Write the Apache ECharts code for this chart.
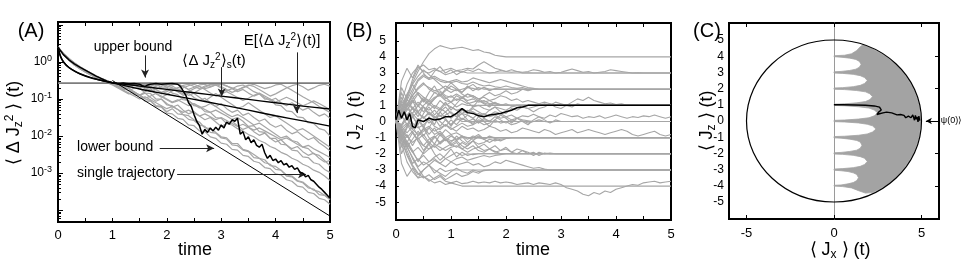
<!DOCTYPE html>
<html><head><meta charset="utf-8">
<script src="https://cdn.jsdelivr.net/npm/echarts@6/dist/echarts.min.js"></script>
<style>html,body{margin:0;padding:0;background:#fff}#c{width:969px;height:269px}</style>
</head><body><div id="c"></div>
<script>
const FONT = "'Liberation Sans', Arial, Helvetica, sans-serif";
const timeStep = 0.1;

// ---------- Panel A : log10 of <ΔJz²>(t) ----------
const aMajorTickExp = [1, 0, -1, -2, -3, -4];
const aLabelExp = [0, -1, -2, -3];
const aMinorMultipliers = [2, 3, 4, 5, 6, 7, 8, 9];
const upperBoundLog10 = -0.57;
const lowerBoundLog10 = [[1.0, -0.5], [5, -4.16]];
const expectationLog10 = [[0,0.4],[0.03,0.2],[0.08,0.05],[0.15,-0.08],[0.25,-0.2],[0.4,-0.32],[0.6,-0.43],[0.8,-0.5],[1.0,-0.56],[1.5,-0.73],[2,-0.87],[2.5,-1.01],[3,-1.15],[3.5,-1.3],[4,-1.45],[4.5,-1.59],[5,-1.73]];
const conditionalLog10 = [[0,0.4],[0.05,0.15],[0.1,0.0],[0.2,-0.15],[0.35,-0.28],[0.5,-0.37],[0.7,-0.46],[0.9,-0.53],[1.0,-0.56],[1.5,-0.65],[2,-0.74],[2.5,-0.83],[3,-0.92],[3.5,-1.01],[4,-1.1],[4.5,-1.19],[5,-1.27]];
const singleTrajLog10 = [[0,0.4],[0.1,0.2],[0.2,0.06],[0.3,-0.05],[0.4,-0.14],[0.5,-0.22],[0.6,-0.3],[0.7,-0.38],[0.8,-0.45],[0.9,-0.52],[1.0,-0.56],[1.1,-0.58],[1.2,-0.57],[1.3,-0.59],[1.4,-0.58],[1.5,-0.6],[1.55,-0.64],[1.6,-0.66],[1.65,-0.62],[1.7,-0.6],[1.8,-0.58],[1.9,-0.6],[2.0,-0.59],[2.1,-0.58],[2.2,-0.6],[2.25,-0.66],[2.3,-0.78],[2.35,-0.9],[2.4,-1.1],[2.45,-1.2],[2.5,-1.42],[2.55,-1.6],[2.6,-1.72],[2.65,-1.95],[2.7,-1.82],[2.75,-1.9],[2.8,-1.78],[2.85,-1.86],[2.9,-1.76],[2.95,-1.84],[3.0,-1.7],[3.05,-1.78],[3.1,-1.62],[3.15,-1.68],[3.2,-1.56],[3.25,-1.6],[3.3,-1.52],[3.35,-1.95],[3.4,-1.88],[3.45,-2.1],[3.5,-2.02],[3.55,-2.18],[3.6,-2.1],[3.65,-2.25],[3.7,-2.3],[3.75,-2.22],[3.8,-2.45],[3.85,-2.6],[3.9,-2.52],[3.95,-2.66],[4.0,-2.62],[4.05,-2.72],[4.1,-2.66],[4.15,-2.78],[4.2,-2.74],[4.25,-2.84],[4.3,-2.8],[4.35,-2.9],[4.4,-2.86],[4.45,-2.98],[4.5,-3.0],[4.55,-3.1],[4.6,-3.06],[4.65,-3.18],[4.7,-3.22],[4.75,-3.3],[4.8,-3.38],[4.85,-3.44],[4.9,-3.52],[4.95,-3.6],[5.0,-3.68]];
const aTraj1 = [0.4,0.22,0.08,-0.04,-0.14,-0.23,-0.31,-0.39,-0.46,-0.52,-0.56,-0.58,-0.7,-0.72,-0.88,-0.9,-1.06,-1.05,-1.2,-1.22,-1.38,-1.4,-1.52,-1.55,-1.7,-1.72,-1.86,-1.88,-2.02,-2.06,-2.19,-2.22,-2.36,-2.38,-2.52,-2.55,-2.68,-2.72,-2.85,-2.88,-3.02,-3.05,-3.18,-3.22,-3.35,-3.38,-3.52,-3.55,-3.68,-3.72,-3.84];
const aTraj2 = [0.4,0.2,0.05,-0.08,-0.18,-0.27,-0.35,-0.42,-0.48,-0.54,-0.58,-0.58,-0.62,-0.56,-0.64,-0.58,-0.6,-0.66,-0.58,-0.7,-0.7,-0.84,-0.88,-1.02,-1.04,-1.18,-1.2,-1.34,-1.36,-1.5,-1.52,-1.66,-1.7,-1.8,-1.86,-1.96,-2.02,-2.12,-2.18,-2.28,-2.34,-2.44,-2.5,-2.6,-2.66,-2.76,-2.82,-2.92,-2.98,-3.08,-3.2];
const aTraj3 = [0.4,0.23,0.1,-0.02,-0.12,-0.21,-0.29,-0.37,-0.44,-0.5,-0.56,-0.65,-0.75,-0.7,-0.82,-0.9,-0.8,-0.72,-0.85,-0.95,-0.88,-0.78,-0.7,-0.65,-0.75,-0.85,-0.95,-1.05,-0.95,-0.85,-0.95,-1.05,-1.15,-1.25,-1.2,-1.1,-1.2,-1.3,-1.4,-1.5,-1.45,-1.55,-1.65,-1.75,-1.85,-1.8,-1.9,-2.0,-2.1,-2.2,-2.3];
const aTraj4 = [0.4,0.21,0.07,-0.06,-0.16,-0.25,-0.33,-0.41,-0.47,-0.53,-0.57,-0.6,-0.58,-0.62,-0.6,-0.65,-0.7,-0.65,-0.6,-0.62,-0.68,-0.75,-0.7,-0.63,-0.6,-0.66,-0.72,-0.65,-0.6,-0.62,-0.7,-0.78,-0.72,-0.65,-0.62,-0.7,-0.8,-0.86,-1.0,-1.0,-1.16,-1.18,-1.32,-1.34,-1.48,-1.5,-1.64,-1.66,-1.8,-1.84,-2.0];
const aTraj5 = [0.4,0.22,0.09,-0.03,-0.13,-0.22,-0.3,-0.38,-0.45,-0.51,-0.56,-0.62,-0.7,-0.65,-0.6,-0.64,-0.72,-0.8,-0.74,-0.66,-0.6,-0.65,-0.73,-0.82,-0.9,-0.84,-0.75,-0.68,-0.62,-0.6,-0.66,-0.74,-0.82,-0.76,-0.68,-0.62,-0.66,-0.74,-0.83,-0.92,-0.86,-0.78,-0.7,-0.64,-0.6,-0.67,-0.76,-0.7,-0.63,-0.6,-0.65];
const aTraj6 = [0.4,0.2,0.06,-0.07,-0.17,-0.26,-0.34,-0.41,-0.47,-0.53,-0.57,-0.6,-0.62,-0.66,-0.64,-0.6,-0.68,-0.76,-0.85,-0.94,-1.02,-1.1,-1.05,-0.98,-1.05,-1.15,-1.24,-1.2,-1.12,-1.2,-1.3,-1.4,-1.48,-1.42,-1.5,-1.6,-1.7,-1.65,-1.75,-1.85,-1.95,-2.05,-2.0,-2.12,-2.16,-2.3,-2.34,-2.48,-2.52,-2.66,-2.8];
const aTraj7 = [0.4,0.21,0.06,-0.06,-0.16,-0.25,-0.33,-0.4,-0.47,-0.52,-0.56,-0.6,-0.66,-0.6,-0.7,-0.7,-0.84,-0.85,-1.0,-1.0,-1.16,-1.18,-1.28,-1.42,-1.45,-1.56,-1.62,-1.78,-1.8,-1.9,-2.02,-2.05,-2.2,-2.2,-2.36,-2.4,-2.5,-2.6,-2.64,-2.8,-2.82,-2.92,-3.05,-3.08,-3.2,-3.24,-3.36,-3.46,-3.5,-3.6,-3.7];
const aTraj8 = [0.4,0.23,0.09,-0.03,-0.13,-0.22,-0.3,-0.38,-0.45,-0.51,-0.57,-0.64,-0.7,-0.78,-0.7,-0.64,-0.6,-0.66,-0.74,-0.82,-0.76,-0.7,-0.78,-0.86,-0.8,-0.72,-0.66,-0.74,-0.84,-0.92,-0.86,-0.8,-0.88,-0.96,-1.04,-0.98,-0.9,-0.84,-0.92,-1.0,-1.08,-1.02,-0.95,-1.02,-1.1,-1.18,-1.12,-1.05,-1.12,-1.2,-1.28];
const aTraj9 = [0.4,0.2,0.05,-0.08,-0.18,-0.27,-0.35,-0.43,-0.5,-0.56,-0.62,-0.7,-0.78,-0.86,-0.8,-0.9,-0.98,-0.92,-0.85,-0.92,-1.0,-1.08,-1.02,-1.1,-1.18,-1.12,-1.2,-1.28,-1.36,-1.3,-1.38,-1.46,-1.55,-1.5,-1.6,-1.74,-1.72,-1.88,-1.9,-2.06,-2.06,-2.22,-2.24,-2.38,-2.4,-2.56,-2.58,-2.72,-2.76,-2.9,-2.98];
const aTraj10 = [0.4,0.22,0.08,-0.05,-0.15,-0.24,-0.32,-0.39,-0.46,-0.52,-0.57,-0.6,-0.63,-0.67,-0.62,-0.6,-0.65,-0.7,-0.66,-0.6,-0.64,-0.7,-0.76,-0.7,-0.64,-0.6,-0.66,-0.72,-0.68,-0.62,-0.6,-0.65,-0.7,-0.75,-0.7,-0.64,-0.6,-0.66,-0.72,-0.68,-0.62,-0.6,-0.68,-0.76,-0.85,-0.94,-1.02,-1.1,-1.2,-1.28,-1.36];
const aTraj11 = [0.4,0.21,0.07,-0.05,-0.15,-0.24,-0.32,-0.4,-0.47,-0.54,-0.6,-0.68,-0.76,-0.84,-0.92,-1.0,-0.94,-1.02,-1.1,-1.18,-1.26,-1.2,-1.28,-1.36,-1.3,-1.38,-1.46,-1.4,-1.48,-1.56,-1.5,-1.58,-1.66,-1.74,-1.68,-1.76,-1.84,-1.78,-1.86,-1.94,-2.02,-2.1,-2.05,-2.13,-2.22,-2.3,-2.25,-2.34,-2.42,-2.5,-2.58];
const aTraj12 = [0.4,0.2,0.06,-0.07,-0.17,-0.26,-0.34,-0.42,-0.48,-0.54,-0.58,-0.62,-0.7,-0.72,-0.85,-0.88,-1.0,-1.04,-1.18,-1.2,-1.34,-1.26,-1.4,-1.42,-1.55,-1.58,-1.7,-1.74,-1.9,-1.92,-2.05,-2.08,-2.24,-2.26,-2.38,-2.42,-2.58,-2.6,-2.72,-2.76,-2.9,-2.92,-3.08,-3.1,-3.22,-3.26,-3.4,-3.43,-3.58,-3.6,-3.72];
const aTraj13 = [0.4,0.22,0.07,-0.05,-0.15,-0.24,-0.32,-0.4,-0.47,-0.53,-0.57,-0.6,-0.56,-0.64,-0.6,-0.7,-0.66,-0.78,-0.74,-0.86,-0.8,-0.72,-0.8,-0.9,-0.84,-0.96,-1.04,-0.98,-1.1,-1.2,-1.12,-1.26,-1.36,-1.3,-1.44,-1.38,-1.5,-1.6,-1.54,-1.68,-1.76,-1.7,-1.84,-1.94,-1.88,-2.0,-2.1,-2.04,-2.18,-2.28,-2.4];
const aTraj14 = [0.4,0.21,0.08,-0.04,-0.14,-0.23,-0.31,-0.39,-0.46,-0.52,-0.57,-0.62,-0.68,-0.62,-0.58,-0.64,-0.6,-0.57,-0.63,-0.6,-0.68,-0.62,-0.58,-0.66,-0.74,-0.68,-0.62,-0.6,-0.66,-0.62,-0.58,-0.64,-0.72,-0.8,-0.74,-0.84,-0.92,-0.86,-0.96,-1.04,-0.98,-1.1,-1.18,-1.1,-1.2,-1.3,-1.24,-1.36,-1.46,-1.4,-1.52];
const aTraj15 = [0.4,0.2,0.06,-0.06,-0.16,-0.25,-0.33,-0.41,-0.48,-0.54,-0.59,-0.66,-0.74,-0.7,-0.8,-0.9,-0.84,-0.96,-1.06,-1.0,-1.12,-1.22,-1.16,-1.3,-1.4,-1.34,-1.46,-1.56,-1.5,-1.62,-1.74,-1.66,-1.6,-1.72,-1.82,-1.76,-1.88,-1.98,-1.92,-2.06,-2.16,-2.1,-2.24,-2.34,-2.28,-2.42,-2.52,-2.46,-2.6,-2.7,-2.66];
const aGrayTrajectories = [aTraj1,aTraj2,aTraj3,aTraj4,aTraj5,aTraj6,aTraj7,aTraj8,aTraj9,aTraj10,aTraj11,aTraj12,aTraj13,aTraj14,aTraj15];
const arrowsA = [[[1.6,0.18],[1.6,-0.42]],[[3.01,-0.14],[3.01,-0.93]],[[4.39,0.26],[4.39,-1.38]],[[1.87,-2.33],[2.87,-2.33]],[[2.19,-3.03],[4.56,-3.03]]];

// ---------- Panel B : <Jz>(t) ----------
const bTickValues = [5,4,3,2,1,0,-1,-2,-3,-4,-5];
const b1 = [0,0.8,1.6,2.4,3.1,3.7,4.2,4.5,4.7,4.6,4.5,4.55,4.6,4.5,4.4,4.45,4.3,4.25,4.1,4.05,4.0];
const b2 = [0,0.6,1.5,2.6,3.3,3.5,3.2,3.3,3.1,3.2,3.3,3.15,3.2,3.3,3.25,3.5,3.7,3.5,3.3,3.2,3.1,3.05,3.1,3.0,3.02,3.0];
const b3 = [0,1.2,2.3,3.0,3.4,3.1,3.0,3.2,3.1,2.9,3.0,3.15,3.05,3.2,3.1,3.25,3.1,3.0,3.05,3.15,3.1,3.2,3.1,3.05,3.1,3.2,3.15,3.05,3.1,3.0,3.05,3.15,3.25,3.15,3.05,3.1,3.0,3.05,3.1,3.2,3.15,3.1,3.05,3.0,3.02,3.0];
const b4 = [0,0.5,1.3,2.0,2.6,2.9,2.7,2.8,2.6,2.5,2.4,2.5,2.35,2.3,2.45,2.3,2.2,2.25,2.15,2.1,2.2,2.1,2.05,2.1,2.0,2.02,2.0];
const b5 = [0,0.7,1.1,1.6,2.0,2.3,2.1,1.9,2.0,2.2,2.0,1.9,2.0,2.1,2.05,1.95,2.1,2.0];
const b6 = [0,0.4,1.0,1.8,2.5,2.8,2.6,2.7,2.5,2.4,2.5,2.6,2.45,2.5,2.7,2.6,2.5,2.4,2.5,2.6,2.5,2.4,2.3,2.2,2.1,2.05,2.0];
const b7 = [0,0.3,0.9,1.4,1.8,1.5,1.2,1.5,1.6,1.3,1.2,1.4,1.3,1.1,1.2,1.3,1.15,1.05,1.1,1.0];
const b8 = [0,-0.2,0.4,0.8,0.6,1.0,1.3,0.9,0.7,1.1,0.9,0.7,0.8,0.6,0.9,1.0,0.8,0.7,0.9,0.8,0.7,0.9,1.0,0.9,0.8,0.9,1.0,1.1,1.0,1.2,1.1,1.0,1.2,1.4,1.3,1.5,1.3,1.2,1.1,1.15,1.05,1.1,1.0,1.02,1.0];
const b9 = [0,0.5,1.0,1.6,2.1,2.4,2.0,1.8,1.9,1.6,1.5,1.7,1.5,1.3,1.4,1.2,1.3,1.1,1.15,1.05,1.0];
const b10 = [0,0.4,-0.2,0.3,0.6,0.2,0.5,0.3,0.1,0.4,0.6,0.3,0.5,0.4,0.2,0.5,0.3,0.4,0.6,0.5,0.3,0.4,0.2,0.35,0.3,0.45,0.3,0.2,0.4,0.3,0.5,0.4,0.3,0.35,0.2,0.3,0.25,0.35,0.2,0.3,0.4,0.3,0.2,0.3,0.25,0.35,0.3,0.4,0.3,0.2,0.3];
const b11 = [0,-0.3,0.2,-0.4,0.1,0.3,-0.1,0.2,0.4,0.1,-0.2,0.1,0.2,0.0,0.15,-0.1,0.1,0.05,-0.05,0.0];
const b12 = [0,0.6,1.1,0.8,1.2,0.9,0.7,1.0,0.8,0.6,0.9,0.7,0.5,0.7,0.6,0.4,0.5,0.3,0.4,0.2,0.3,0.1,0.2,0.1,0.05,0.0];
const b13 = [0,-0.5,-1.0,-0.6,-1.2,-1.5,-1.1,-0.9,-1.3,-1.0,-1.2,-1.1,-0.9,-1.0,-1.1,-1.0];
const b14 = [0,-0.2,0.3,-0.1,-0.4,-0.2,0.1,-0.3,-0.5,-0.2,-0.4,-0.6,-0.3,-0.5,-0.4,-0.6,-0.5,-0.3,-0.4,-0.6,-0.5,-0.7,-0.6,-0.4,-0.5,-0.6,-0.7,-0.5,-0.6,-0.8,-0.7,-0.6,-0.5,-0.7,-0.6,-0.5,-0.6,-0.7,-0.8,-0.7,-0.6,-0.5,-0.6,-0.8,-0.9,-0.8,-0.7,-0.6,-0.8,-0.9,-0.8];
const b15 = [0,-0.8,-1.4,-1.9,-1.6,-2.0,-1.7,-1.5,-1.8,-1.6,-1.4,-1.6,-1.3,-1.5,-1.2,-1.4,-1.3,-1.1,-1.2,-1.1,-1.05,-1.0];
const b16 = [0,-0.6,-1.3,-1.9,-2.4,-2.1,-2.5,-2.2,-2.0,-2.3,-2.1,-1.9,-2.1,-2.0,-2.05,-2.0];
const b17 = [0,-1.0,-1.6,-2.2,-2.8,-2.5,-2.7,-2.4,-2.6,-2.3,-2.5,-2.3,-2.2,-2.4,-2.3,-2.2,-2.1,-2.2,-2.1,-2.05,-2.0];
const b18 = [0,-0.4,-0.9,-1.3,-1.0,-1.5,-1.7,-1.4,-1.6,-1.8,-1.6,-1.5,-1.7,-1.9,-1.7,-1.6,-1.8,-1.7,-1.9,-1.8,-1.7,-1.9,-2.0,-1.8,-1.9,-2.1,-1.9,-2.0,-1.95,-2.0];
const b19 = [0,-1.2,-2.1,-2.8,-3.3,-3.0,-2.7,-3.0,-3.2,-3.4,-3.1,-2.9,-3.1,-3.2,-3.0,-3.1,-3.05,-3.0];
const b20 = [0,-0.9,-1.8,-2.6,-2.3,-2.7,-2.5,-2.3,-2.6,-2.8,-2.5,-2.7,-2.6,-2.5,-2.7,-2.6,-2.8,-2.7,-2.5,-2.6,-2.4,-2.5,-2.6,-2.7,-2.8,-2.9,-2.85,-2.95,-3.0];
const b21 = [0,-1.4,-2.5,-3.1,-3.5,-3.4,-3.6,-3.8,-3.7,-3.9,-3.8,-3.9,-4.0];
const b22 = [0,-1.1,-2.0,-2.7,-3.2,-3.5,-3.3,-3.6,-3.4,-3.7,-3.8,-3.7,-3.85,-3.8,-3.7,-3.8,-3.75,-3.8,-3.7,-3.8,-3.75,-3.8,-3.9,-3.85,-3.8,-3.9,-3.8,-3.85,-3.9,-3.8,-3.9,-4.1,-4.2,-4.3,-4.5,-4.6,-4.4,-4.5,-4.3,-4.4,-4.2,-4.1,-4.0,-3.9,-3.95,-3.8,-3.75,-3.7,-3.8,-3.75,-3.7];
const b23 = [0,0.8,0.3,0.9,0.5,0.2,0.6,0.3,0.0,-0.3,0.1,-0.2,0.2,0.0,-0.1,0.1,0.0];
const b24 = [0,-0.3,-0.7,-0.3,-0.9,-0.6,-0.4,-0.8,-0.6,-1.0,-0.8,-0.7,-0.9,-1.1,-0.9,-1.0,-1.1,-0.95,-1.0];
const b25 = [0,0.2,0.7,1.3,1.0,0.6,1.1,1.4,1.7,1.4,1.6,1.3,1.5,1.7,1.6,1.4,1.5,1.3,1.4,1.6,1.5,1.3,1.4,1.2,1.3,1.2,1.1,1.2,1.1,1.05,1.0];
const b26 = [0,-0.4,-0.1,-0.5,-0.8,-0.5,-0.3,-0.6,-0.4,-0.2,-0.5,-0.3,-0.1,-0.3,-0.2,0.0,-0.2,-0.1,0.1,-0.1,0.0,-0.2,-0.1,0.05,-0.1,0.0,0.1,0.0,-0.05,0.0];
const b27 = [0,-0.7,-1.5,-2.3,-2.9,-3.4,-3.7,-3.5,-3.3,-3.6,-3.4,-3.2,-3.4,-3.3,-3.1,-3.2,-3.0];
const b28 = [0,0.3,0.8,0.5,1.0,1.5,1.3,1.8,1.6,1.9,2.2,2.0,1.8,2.1,2.3,2.0,2.1,1.9,2.05,2.0];
const b29 = [0,0.9,1.7,2.3,2.8,3.2,2.9,2.6,2.3,2.0,1.8,2.0,1.7,1.5,1.6,1.4,1.2,1.3,1.1,1.05,1.0];
const b30 = [0,-0.6,-0.2,-0.7,-1.1,-0.8,-1.3,-1.6,-1.3,-1.1,-1.4,-1.2,-1.5,-1.7,-1.5,-1.8,-1.9,-1.7,-1.85,-2.0];
const b31 = [0,1.5,0.9,1.3,0.6,0.9,0.4,0.7,0.3,0.6,0.2,0.5,0.1,0.4,0.2,-0.1,0.2,0.0,0.3,0.1,-0.1,0.1,0.0];
const b32 = [0,-1.2,-0.4,0.3,-0.2,0.5,0.9,0.4,0.8,1.2,0.7,1.1,1.5,1.2,0.9,1.3,1.1,0.9,1.2,1.0,1.1,0.95,1.0];
const b33 = [0,1.1,0.3,-0.5,0.2,-0.3,-0.8,-0.4,-0.9,-0.5,-0.8,-1.2,-0.9,-1.3,-1.0,-0.8,-1.1,-0.9,-1.05,-1.0];
const b34 = [0,2.1,1.4,2.3,1.7,1.2,1.8,2.2,1.6,2.0,2.4,2.1,1.8,2.2,1.9,2.1,2.0];
const b35 = [0,-2.0,-1.2,-1.8,-2.5,-1.9,-1.4,-2.0,-2.4,-2.1,-1.7,-2.2,-1.9,-2.1,-2.0];
const b36 = [0,-1.0,-0.3,0.5,0.1,-0.4,0.3,-0.2,0.6,0.2,-0.3,0.2,0.5,0.1,-0.2,0.3,0.0,-0.3,0.1,0.4,0.2,-0.1,0.2,0.0,-0.2,0.1,0.3,0.1,-0.1,0.1,0.0];
const b37 = [0,2.5,3.3,2.7,3.5,3.0,2.6,3.1,3.4,3.0,3.2,2.9,3.1,3.0];
const b38 = [0,-2.6,-3.4,-2.9,-3.5,-3.0,-2.7,-3.2,-2.9,-3.1,-3.0];
const b39 = [0,0.7,1.4,0.8,0.3,0.9,0.5,0.2,0.6,0.9,0.5,0.3,0.7,0.5,0.8,0.6,0.4,0.7,0.9,0.6,0.5,0.8,0.7,0.9,0.8,0.6,0.8,0.9,1.1,0.9,0.8,1.0,0.9,1.1,1.0];
const b40 = [0,-1.6,-0.8,-1.5,-0.9,-0.4,-1.0,-1.4,-0.8,-1.2,-0.9,-1.1,-1.0];
const b41 = [0,0.3,1.0,0.4,-0.3,-0.9,-0.4,0.2,-0.3,0.1,-0.2,0.2,0.0];
const b42 = [0,-0.5,-1.3,-0.7,-1.2,-1.8,-1.3,-0.9,-1.4,-1.1,-1.5,-1.3,-1.7,-1.5,-1.2,-1.6,-1.4,-1.7,-1.5,-1.8,-1.6,-1.9,-1.7,-1.8,-2.0,-1.9,-2.1,-1.95,-2.0];
const b43 = [0,1.8,1.0,1.6,0.9,1.4,1.1,0.8,1.3,1.0,1.2,0.9,1.1,1.0];
const b44 = [0,-0.9,-1.6,-1.1,-0.6,-1.0,-1.4,-1.0,-0.7,-1.1,-1.3,-0.9,-1.2,-1.4,-1.2,-0.9,-1.1,-1.3,-1.1,-1.2,-1.05,-1.0];
const b45 = [0,1.3,0.7,1.2,1.7,1.3,1.0,1.4,1.8,1.5,1.2,1.6,1.4,1.7,1.5,1.3,1.6,1.8,1.6,1.7,1.9,1.7,1.8,2.0,1.9,2.0];
const bGrayTrajectories = [b1,b2,b3,b4,b5,b6,b7,b8,b9,b10,b11,b12,b13,b14,b15,b16,b17,b18,b19,b20,b21,b22,b23,b24,b25,b26,b27,b28,b29,b30,b31,b32,b33,b34,b35,b36,b37,b38,b39,b40,b41,b42,b43,b44,b45];
const bBlack = [[0,0.1],[0.05,0.7],[0.1,0.2],[0.15,0.6],[0.2,0.1],[0.25,0.5],[0.3,-0.3],[0.35,-0.4],[0.4,0.1],[0.5,0.0],[0.6,0.2],[0.7,0.1],[0.8,0.15],[0.9,0.3],[1.0,0.3],[1.1,0.5],[1.2,0.8],[1.3,0.55],[1.4,0.5],[1.5,0.35],[1.6,0.3],[1.7,0.4],[1.8,0.45],[1.9,0.5],[2.0,0.6],[2.1,0.7],[2.2,0.85],[2.3,0.9],[2.4,1.0],[5,1.0]];

// ---------- Panel C : (<Jx>, <Jz>) ----------
const cLabelValues = [5,4,3,2,1,0,-1,-2,-3,-4,-5];
const cXLabelValues = [-5, 0, 5];
const blochCircle = [[0, 0, 5]];
const grayRegionC = [[0,4.03],[0.6,4.06],[1.0,4.15],[1.3,4.35],[1.5,4.58],[1.65,4.7],[2.1,4.5],[2.6,4.22],[3.0,3.95],[3.5,3.52],[3.9,3.05],[4.2,2.6],[4.5,2.1],[4.7,1.55],[4.85,1.0],[4.93,0.4],[4.95,0],[4.93,-0.4],[4.85,-1.0],[4.7,-1.55],[4.5,-2.1],[4.2,-2.6],[3.9,-3.05],[3.5,-3.52],[3.0,-3.95],[2.6,-4.2],[2.2,-4.42],[1.8,-4.45],[1.4,-4.3],[1.0,-4.13],[0.5,-4.05],[0,-4.02],
[0,-3.97],[0.4,-3.95],[0.8,-3.88],[1.1,-3.8],[1.3,-3.68],[1.4,-3.5],[1.3,-3.3],[1.1,-3.2],[0.8,-3.12],[0.4,-3.07],[0,-3.04],
[0,-2.97],[0.5,-2.94],[1.1,-2.88],[1.5,-2.8],[1.75,-2.68],[1.9,-2.5],[1.75,-2.3],[1.5,-2.2],[1.1,-2.12],[0.5,-2.06],[0,-2.04],
[0,-1.96],[0.4,-1.94],[0.9,-1.88],[1.3,-1.8],[1.5,-1.68],[1.6,-1.5],[1.5,-1.3],[1.3,-1.2],[0.9,-1.12],[0.4,-1.06],[0,-1.04],
[0,-0.96],[0.6,-0.94],[1.4,-0.88],[1.9,-0.8],[2.2,-0.68],[2.4,-0.5],[2.2,-0.3],[1.9,-0.2],[1.4,-0.12],[0.6,-0.06],[0,-0.04],
[0,0.04],[0.6,0.06],[1.4,0.12],[2.0,0.2],[2.3,0.32],[2.5,0.5],[2.3,0.68],[2.0,0.8],[1.4,0.88],[0.6,0.94],[0,0.96],
[0,1.04],[0.6,1.06],[1.3,1.12],[1.8,1.2],[2.05,1.32],[2.2,1.5],[2.05,1.68],[1.8,1.8],[1.3,1.88],[0.6,1.94],[0,1.96],
[0,2.04],[0.5,2.06],[1.1,2.12],[1.5,2.2],[1.75,2.32],[1.9,2.5],[1.75,2.68],[1.5,2.8],[1.1,2.88],[0.5,2.94],[0,2.96],
[0,3.04],[0.4,3.06],[0.9,3.12],[1.25,3.2],[1.45,3.32],[1.55,3.5],[1.45,3.68],[1.25,3.8],[0.9,3.88],[0.4,3.94],[0,3.97]];
const cBlack = [[4.9,0.02],[4.85,0.3],[4.8,-0.05],[4.75,0.25],[4.7,0.1],[4.65,0.35],[4.6,0.05],[4.5,0.38],[4.4,0.2],[4.3,0.12],[4.25,0.3],[4.1,0.2],[4.0,0.35],[3.9,0.3],[3.8,0.4],[3.6,0.38],[3.5,0.45],[3.3,0.5],[3.2,0.58],[3.0,0.55],[2.8,0.5],[2.6,0.45],[2.45,0.4],[2.55,0.55],[2.7,0.68],[2.8,0.74],[2.6,0.86],[2.3,0.93],[1.8,0.97],[1.2,0.99],[0.5,1.0],[0,1.0]];
const psiArrow = [[5.95, 0], [5.25, 0]];

// ---------- build ----------
const GRAY = '#a6a6a6';
function held(vals) {
  const d = vals.map((v, i) => [Math.round(i * timeStep * 100) / 100, v]);
  if (d[d.length - 1][0] < 5) d.push([5, vals[vals.length - 1]]);
  return d;
}
const tickStyle = {lineStyle: {color: '#000', width: 1}};
const baseLabel = {color: '#000', fontFamily: FONT};
function xAx(grid, pos, opts) {
  return Object.assign({gridIndex: grid, type: 'value', position: pos,
    axisLine: {show: false, onZero: false}, splitLine: {show: false}}, opts);
}
const aMinorTicks = [];
[1,0,-1,-2,-3,-4,-5].forEach(e => aMinorMultipliers.forEach(m => aMinorTicks.push(e + Math.log10(m))));

const xAxis = [
  xAx(0, 'bottom', {min: 0, max: 5, interval: 1,
    axisTick: {inside: true, length: 4, ...tickStyle}, minorTick: {show: true, splitNumber: 2, length: 4, ...tickStyle},
    axisLabel: {...baseLabel, fontSize: 13, margin: 7}}),
  xAx(0, 'top', {min: 0, max: 5, interval: 1,
    axisTick: {inside: true, length: 4, ...tickStyle}, minorTick: {show: true, splitNumber: 2, length: 4, ...tickStyle},
    axisLabel: {show: false}}),
  xAx(1, 'bottom', {min: 0, max: 5, interval: 1,
    axisTick: {inside: true, length: 4, ...tickStyle}, minorTick: {show: true, splitNumber: 2, length: 4, ...tickStyle},
    axisLabel: {...baseLabel, fontSize: 13, margin: 8}}),
  xAx(1, 'top', {min: 0, max: 5, interval: 1,
    axisTick: {inside: true, length: 4, ...tickStyle}, minorTick: {show: true, splitNumber: 2, length: 4, ...tickStyle},
    axisLabel: {show: false}}),
  xAx(2, 'bottom', {min: -6, max: 6,
    axisTick: {inside: true, length: 4, customValues: cXLabelValues, ...tickStyle},
    axisLabel: {...baseLabel, fontSize: 13, margin: 8, customValues: cXLabelValues}}),
  xAx(2, 'top', {min: -6, max: 6,
    axisTick: {inside: true, length: 4, customValues: cXLabelValues, ...tickStyle},
    axisLabel: {show: false}})
];
const yAxis = [
  {gridIndex: 0, type: 'value', min: -4.32, max: 1.08, position: 'left',
    axisLine: {show: false, onZero: false}, splitLine: {show: false},
    axisTick: {inside: true, length: 5, customValues: aMajorTickExp, ...tickStyle},
    axisLabel: {...baseLabel, margin: 6, customValues: aLabelExp,
      formatter: v => '{b|10}{s|' + v + '}',
      rich: {b: {fontSize: 12, fontFamily: FONT, color: '#000', lineHeight: 16}, s: {fontSize: 9, fontFamily: FONT, color: '#000', verticalAlign: 'top'}}}},
  {gridIndex: 0, type: 'value', min: -4.32, max: 1.08, position: 'left',
    axisLine: {show: false, onZero: false}, splitLine: {show: false},
    axisTick: {inside: true, length: 3, customValues: aMinorTicks.filter(v => v > -4.32 && v < 1.08), ...tickStyle},
    axisLabel: {show: false}},
  {gridIndex: 1, type: 'value', min: -6.1, max: 6.1, position: 'left',
    axisLine: {show: false, onZero: false}, splitLine: {show: false},
    axisTick: {inside: true, length: 3, customValues: bTickValues, ...tickStyle},
    axisLabel: {...baseLabel, fontSize: 12, margin: 10, customValues: bTickValues}},
  {gridIndex: 2, type: 'value', min: -6.05, max: 6.05, position: 'left',
    axisLine: {show: true, onZero: true, lineStyle: {color: '#9a9a9a', width: 1}}, splitLine: {show: false},
    axisTick: {show: false},
    axisLabel: {...baseLabel, fontSize: 12, margin: 5, customValues: cLabelValues}},
  {gridIndex: 2, type: 'value', min: -6.05, max: 6.05, position: 'right',
    axisLine: {show: false, onZero: false}, splitLine: {show: false},
    axisTick: {inside: true, length: 4, customValues: [-4,-2,0,2,4], ...tickStyle},
    axisLabel: {show: false}}
];

const series = [];
const lineBase = {type: 'line', showSymbol: false, symbol: 'none', silent: true};
aGrayTrajectories.forEach(v => series.push({...lineBase, xAxisIndex: 0, yAxisIndex: 0, data: held(v), lineStyle: {color: GRAY, width: 1.2}}));
series.push({...lineBase, xAxisIndex: 0, yAxisIndex: 0, data: [[0, upperBoundLog10], [5, upperBoundLog10]],
  lineStyle: {color: '#7d7d7d', width: 1.6}, z: 3,
  markLine: {silent: true, symbol: ['none', 'arrow'], symbolSize: [6, 8], label: {show: false},
    lineStyle: {color: '#222', width: 1, type: 'solid'}, emphasis: {disabled: true},
    data: arrowsA.map(a => [{coord: a[0]}, {coord: a[1]}])}});
series.push({...lineBase, xAxisIndex: 0, yAxisIndex: 0, data: lowerBoundLog10, lineStyle: {color: '#000', width: 1}, z: 4});
series.push({...lineBase, xAxisIndex: 0, yAxisIndex: 0, data: expectationLog10, smooth: 0.3, lineStyle: {color: '#000', width: 1.4}, z: 4});
series.push({...lineBase, xAxisIndex: 0, yAxisIndex: 0, data: conditionalLog10, smooth: 0.3, lineStyle: {color: '#000', width: 1.4}, z: 4});
series.push({...lineBase, xAxisIndex: 0, yAxisIndex: 0, data: singleTrajLog10, lineStyle: {color: '#000', width: 1.5}, z: 5});

bGrayTrajectories.forEach(v => series.push({...lineBase, xAxisIndex: 2, yAxisIndex: 2, data: held(v), lineStyle: {color: GRAY, width: 1.1}}));
series.push({...lineBase, xAxisIndex: 2, yAxisIndex: 2, data: bBlack, lineStyle: {color: '#000', width: 1.5}, z: 5});

series.push({type: 'custom', xAxisIndex: 4, yAxisIndex: 3, silent: true, data: [[0, 0]], z: 2,
  renderItem: (params, api) => ({type: 'polygon', shape: {points: grayRegionC.map(p => api.coord(p))},
    style: {fill: '#a3a3a3', stroke: '#a3a3a3', lineWidth: 0.8}})});
series.push({type: 'custom', xAxisIndex: 4, yAxisIndex: 3, silent: true, data: blochCircle, z: 3,
  renderItem: (params, api) => {
    const c = api.coord([api.value(0), api.value(1)]);
    const r = api.value(2);
    return {type: 'ellipse', shape: {cx: c[0], cy: c[1], rx: api.size([r, 0])[0], ry: api.size([0, r])[1]},
      style: {fill: 'none', stroke: '#000', lineWidth: 1.2}};
  }});
series.push({...lineBase, xAxisIndex: 4, yAxisIndex: 3, data: cBlack, lineStyle: {color: '#000', width: 1.4}, z: 5, clip: false,
  markLine: {silent: true, symbol: ['none', 'arrow'], symbolSize: [5, 6], label: {show: false},
    lineStyle: {color: '#000', width: 1, type: 'solid'}, emphasis: {disabled: true},
    data: [[{coord: psiArrow[0]}, {coord: psiArrow[1]}]]}});

const chart = echarts.init(document.getElementById('c'));
chart.setOption({
  animation: false,
  grid: [
    {left: 58, top: 22, width: 272, height: 200, show: true, borderColor: '#000', borderWidth: 2},
    {left: 396, top: 23, width: 275, height: 197, show: true, borderColor: '#000', borderWidth: 2},
    {left: 729, top: 23, width: 210, height: 196, show: true, borderColor: '#000', borderWidth: 2}
  ],
  xAxis, yAxis, series
});

// ---------- text (panel labels, axis titles, annotations) ----------
const richBase = (size) => ({
  n: {fontSize: size, fontFamily: FONT, color: '#000', lineHeight: size + 3},
  sub: {fontSize: Math.round(size * 0.65), fontFamily: FONT, color: '#000', verticalAlign: 'bottom'},
  sup: {fontSize: Math.round(size * 0.65), fontFamily: FONT, color: '#000', verticalAlign: 'top'}
});
function txt(text, x, y, size, opts) {
  return Object.assign({type: 'text', x, y, silent: true, z: 100,
    style: {text, fontSize: size, fontFamily: FONT, fill: '#000', align: 'center', verticalAlign: 'middle', rich: richBase(size)}}, opts || {});
}
function leftTxt(text, x, y, size) {
  return {type: 'text', x, y, silent: true, z: 100,
    style: {text, fontSize: size, fontFamily: FONT, fill: '#000', align: 'left', verticalAlign: 'middle'}};
}
const pA = (p) => chart.convertToPixel({xAxisIndex: 0, yAxisIndex: 0}, p);
const pC = (p) => chart.convertToPixel({xAxisIndex: 4, yAxisIndex: 3}, p);
const g = [];
g.push(txt('(A)', 31, 31, 20));
g.push(txt('(B)', 359, 31, 20));
g.push(txt('(C)', 707, 31, 20));
g.push(txt('{n|⟨ Δ J}{sub|z}{sup|2}{n| ⟩ (t)}', 14, 123, 18, {rotation: Math.PI / 2}));
g.push(txt('{n|⟨ J}{sub|z}{n| ⟩ (t)}', 355, 121, 18, {rotation: Math.PI / 2}));
g.push(txt('{n|⟨ J}{sub|z}{n| ⟩ (t)}', 707, 121, 18, {rotation: Math.PI / 2}));
g.push(txt('time', 195, 250, 18));
g.push(txt('time', 533, 250, 18));
g.push(txt('{n|⟨ J}{sub|x}{n| ⟩ (t)}', 840, 250, 18));
let q = pA([1.38, 0.40]); g.push(txt('upper bound', q[0], q[1], 14));
q = pA([2.87, 0.02]); g.push(txt('{n|⟨Δ J}{sub|z}{sup|2}{n|⟩}{sub|s}{n|(t)}', q[0], q[1], 15));
q = pA([4.12, 0.57]); g.push(txt('{n|E[⟨Δ J}{sub|z}{sup|2}{n|⟩(t)]}', q[0], q[1], 15));
q = pA([0.35, -2.3]); g.push(leftTxt('lower bound', q[0], q[1], 14));
q = pA([0.35, -3.0]); g.push(leftTxt('single trajectory', q[0], q[1], 14));
q = pC([5.97, 0]); g.push(leftTxt('|ψ(0)⟩', q[0], q[1], 9));
chart.setOption({graphic: g});
</script>
</body></html>
